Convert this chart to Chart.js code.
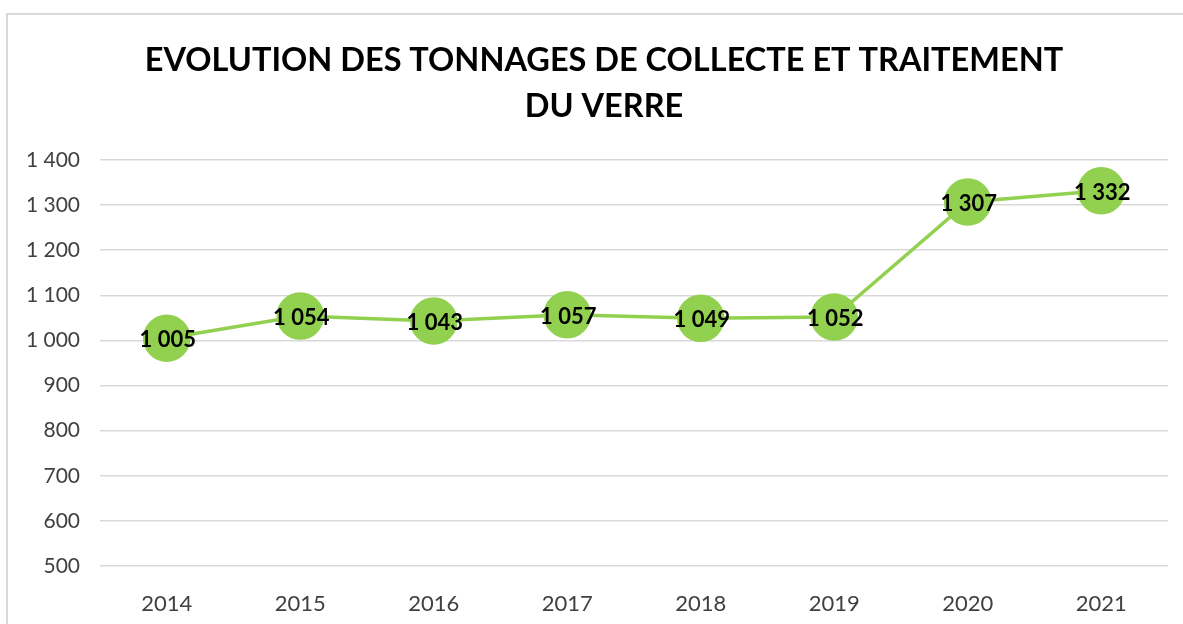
<!DOCTYPE html>
<html>
<head>
<meta charset="utf-8">
<script src="https://cdn.jsdelivr.net/npm/chart.js@4"></script>
<style>
  html, body { margin: 0; padding: 0; background: #fff; overflow: hidden; }
  #wrap { position: relative; width: 1183px; height: 624px; }
  canvas { display: block; }
</style>
</head>
<body>
<div id="wrap"><canvas id="chart"></canvas></div>
<script>
'use strict';

const years = ['2014', '2015', '2016', '2017', '2018', '2019', '2020', '2021'];
const tonnages = [1005, 1054, 1043, 1057, 1049, 1052, 1307, 1332];
const titleLines = ['EVOLUTION DES TONNAGES DE COLLECTE ET TRAITEMENT', 'DU VERRE'];

const GREEN = '#92D050';
const FONT = 'Lato, "Open Sans", sans-serif';

function formatNumber(v) {
    return String(v).replace(/\B(?=(\d{3})+(?!\d))/g, ' ');
}

// frame like the office chart border (top and left visible)
const framePlugin = {
    id: 'frame',
    beforeDraw(chart) {
        const ctx = chart.ctx;
        ctx.save();
        ctx.strokeStyle = '#d9d9d9';
        ctx.lineWidth = 2;
        ctx.beginPath();
        ctx.moveTo(7, 626);
        ctx.lineTo(7, 14);
        ctx.lineTo(1190, 14);
        ctx.stroke();
        ctx.restore();
    }
};

// title is drawn by hand: it is not centred on the canvas in the original
const titlePlugin = {
    id: 'bigTitle',
    afterDraw(chart) {
        const ctx = chart.ctx;
        ctx.save();
        ctx.font = 'bold 32.5px ' + FONT;
        ctx.fillStyle = '#000';
        ctx.textAlign = 'center';
        ctx.textBaseline = 'middle';
        titleLines.forEach(function(line, i) {
            ctx.fillText(line, 604, 61 + i * 46);
        });
        ctx.restore();
    }
};

// value labels centred on the points
const valueLabels = {
    id: 'valueLabels',
    afterDatasetsDraw(chart) {
        const ctx = chart.ctx;
        const meta = chart.getDatasetMeta(0);
        ctx.save();
        ctx.font = 'bold 22px ' + FONT;
        ctx.fillStyle = '#000';
        ctx.textAlign = 'center';
        ctx.textBaseline = 'middle';
        meta.data.forEach(function(pt, i) {
            ctx.fillText(formatNumber(tonnages[i]), pt.x + 1, pt.y + 2);
        });
        ctx.restore();
    }
};

const ctx = document.getElementById('chart').getContext('2d');
new Chart(ctx, {
    type: 'line',
    data: {
        labels: years,
        datasets: [{
            data: tonnages,
            borderColor: GREEN,
            borderWidth: 3.5,
            backgroundColor: GREEN,
            pointBackgroundColor: GREEN,
            pointBorderColor: GREEN,
            pointRadius: 22,
            pointHoverRadius: 22,
            tension: 0
        }]
    },
    options: {
        responsive: true,
        maintainAspectRatio: false,
        animation: false,
        layout: {
            autoPadding: false,
            padding: { left: 7, right: 15, top: 160, bottom: 0 }
        },
        plugins: {
            legend: { display: false },
            tooltip: { enabled: false },
            title: { display: false }
        },
        scales: {
            x: {
                offset: true,
                grid: { display: false, drawTicks: false },
                border: { display: false },
                ticks: {
                    color: '#404040',
                    font: { family: FONT, size: 22 },
                    padding: 25
                },
                afterFit(scale) {
                    scale.height = 58;
                    scale.paddingLeft = 0;
                    scale.paddingRight = 0;
                }
            },
            y: {
                min: 500,
                max: 1400,
                grid: { color: '#d9d9d9', lineWidth: 1.5, drawTicks: false },
                border: { display: false },
                ticks: {
                    stepSize: 100,
                    color: '#404040',
                    font: { family: FONT, size: 21 },
                    padding: 20,
                    callback: function(v) { return formatNumber(v); }
                },
                afterFit(scale) {
                    scale.width = 93;
                    scale.paddingTop = 0;
                    scale.paddingBottom = 0;
                }
            }
        }
    },
    plugins: [framePlugin, titlePlugin, valueLabels]
});
</script>
</body>
</html>
